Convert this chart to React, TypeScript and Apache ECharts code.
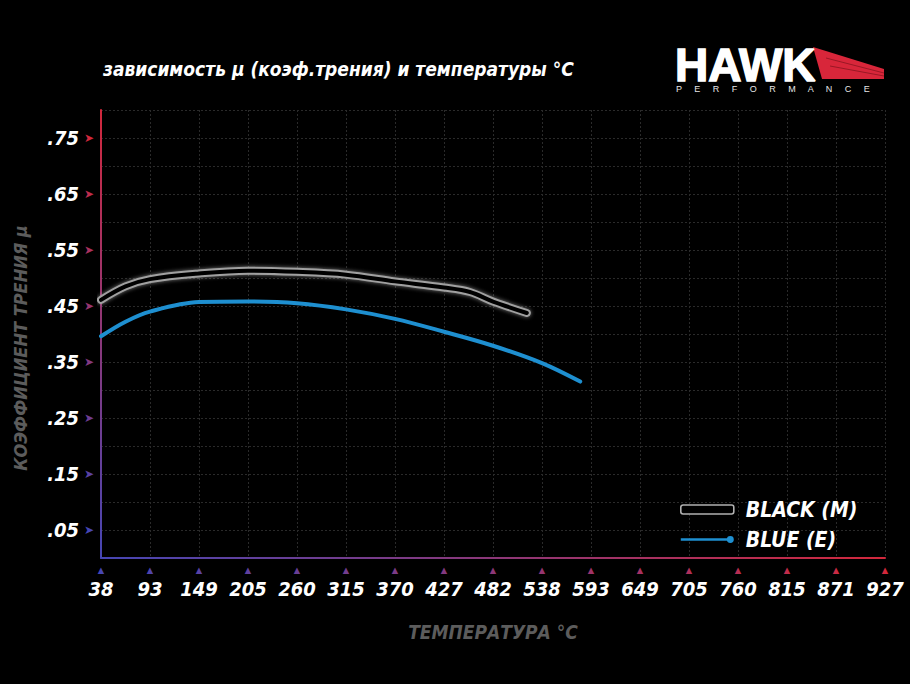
import React, { useEffect, useRef } from "react";
import * as echarts from "echarts";

// x-axis ticks are in °F internally (100..1700), labelled in °C
const tickLabelsC = ["38", "93", "149", "205", "260", "315", "370", "427", "482", "538", "593", "649", "705", "760", "815", "871", "927"];

const blackTempF = [100, 150, 200, 300, 400, 500, 600, 700, 800, 853, 900, 969];
const blackMu = [0.461, 0.485, 0.498, 0.508, 0.513, 0.511, 0.506, 0.494, 0.483, 0.475, 0.458, 0.4375];

const blueTempF = [100, 150, 200, 300, 400, 500, 600, 700, 800, 900, 1000, 1078];
const blueMu = [0.396, 0.422, 0.44, 0.457, 0.458, 0.455, 0.444, 0.427, 0.404, 0.379, 0.348, 0.315];

const TITLE = "зависимость µ (коэф.трения) и температуры °C";
const Y_NAME = "КОЭФФИЦИЕНТ ТРЕНИЯ μ";
const X_NAME = "ТЕМПЕРАТУРА °C";
const BLACK_NAME = "BLACK (M)";
const BLUE_NAME = "BLUE (E)";
const LOGO = "HAWK";
const PERF = "P     E     R     F     O     R     M     A     N     C     E";

const FONT = '"Liberation Sans Narrow", "DejaVu Sans Condensed", "Liberation Sans", sans-serif';

const BLUEPURPLE = [70, 70, 180];
const RED = [210, 40, 60];
function mix(t: number) {
  const c = BLUEPURPLE.map((b, i) => Math.round(b + (RED[i] - b) * t));
  return `rgb(${c[0]},${c[1]},${c[2]})`;
}

export default function App() {
  const ref = useRef<HTMLDivElement>(null);
  useEffect(() => {
    document.body.style.margin = "0";
    document.body.style.background = "#000";
    const chart = echarts.init(ref.current!, null, { renderer: "svg" });

    const xRich: any = {
      v: { fontFamily: FONT, fontSize: 20, fontWeight: "bold", fontStyle: "italic", color: "#fff", lineHeight: 22 },
    };
    for (let i = 0; i < 17; i++) {
      xRich["c" + i] = { fontSize: 11, color: mix(i / 16), lineHeight: 16 };
    }
    const yRich: any = {
      v: { fontFamily: FONT, fontSize: 20, fontWeight: "bold", fontStyle: "italic", color: "#fff" },
    };
    for (let i = 0; i < 8; i++) {
      yRich["c" + i] = { fontSize: 12, color: mix(i / 7), padding: [0, 0, 0, 5] };
    }

    chart.setOption({
      animation: false,
      backgroundColor: "#000",
      title: {
        text: TITLE,
        left: 103,
        top: 59,
        padding: 0,
        textStyle: { color: "#fff", fontFamily: FONT, fontSize: 19, fontWeight: "bold", fontStyle: "italic" },
      },
      grid: { left: 101, right: 25, top: 110, bottom: 126, containLabel: false, outerBoundsMode: "none" },
      legend: {
        orient: "vertical",
        left: 680,
        top: 499,
        padding: 0,
        itemWidth: 53,
        itemHeight: 9,
        itemGap: 9,
        textStyle: { color: "#fff", fontFamily: FONT, fontSize: 21, fontWeight: "bold", fontStyle: "italic", padding: [0, 0, 0, 7] },
        data: [
          { name: BLACK_NAME, icon: "roundRect", itemStyle: { color: "#000", borderColor: "#b0b0b0", borderWidth: 1.6 } },
          {
            name: BLUE_NAME,
            icon: "path://M0,4L48,4L48,6.4L0,6.4Z M53.5,5.2A3.5,3.5 0 1 1 46.5,5.2A3.5,3.5 0 1 1 53.5,5.2Z",
            itemStyle: { color: "#1e8fd0" },
          },
        ],
        selectedMode: false,
      },
      xAxis: {
        type: "value",
        min: 100,
        max: 1700,
        interval: 100,
        name: X_NAME,
        nameLocation: "middle",
        nameGap: 64,
        nameTextStyle: { color: "#5c5c5c", fontFamily: FONT, fontSize: 19, fontWeight: "bold", fontStyle: "italic" },
        axisLine: {
          show: true,
          lineStyle: {
            width: 2,
            color: new echarts.graphic.LinearGradient(101, 0, 885, 0, [
              { offset: 0, color: mix(0) },
              { offset: 1, color: mix(1) },
            ], true),
          },
        },
        axisTick: { show: false },
        axisLabel: {
          margin: 4,
          showMinLabel: true,
          showMaxLabel: true,
          formatter: (v: number) => {
            const idx = Math.round((v - 100) / 100);
            return `{c${idx}|▲}\n{v|${tickLabelsC[idx]}}`;
          },
          rich: xRich,
        },
        splitLine: { show: true, lineStyle: { color: "#2a2a2a", type: [2, 2], width: 1 } },
      },
      yAxis: {
        type: "value",
        min: 0,
        max: 0.8,
        interval: 0.05,
        name: Y_NAME,
        nameLocation: "middle",
        nameGap: 72,
        nameRotate: 90,
        nameTextStyle: { color: "#5c5c5c", fontFamily: FONT, fontSize: 18, fontWeight: "bold", fontStyle: "italic", padding: [0, 28, 0, 0] },
        axisLine: {
          show: true,
          lineStyle: {
            width: 2,
            color: new echarts.graphic.LinearGradient(0, 110, 0, 558, [
              { offset: 0, color: mix(1) },
              { offset: 1, color: mix(0) },
            ], true),
          },
        },
        axisTick: { show: false },
        axisLabel: {
          margin: 7,
          formatter: (v: number) => {
            const h = Math.round(v * 100);
            if (h % 10 !== 5) return "";
            const k = (h - 5) / 10;
            return `{v|.${String(h).padStart(2, "0")}}{c${k}|➤}`;
          },
          rich: yRich,
        },
        splitLine: { show: true, lineStyle: { color: "#2a2a2a", type: [2, 2], width: 1 } },
      },
      series: [
        {
          name: BLACK_NAME,
          type: "line",
          smooth: 0.35,
          showSymbol: false,
          data: blackTempF.map((t, i) => [t, blackMu[i]]),
          lineStyle: { width: 8, color: "#a0a0a0", cap: "round", shadowColor: "rgba(200,200,200,0.6)", shadowBlur: 4 },
          z: 2,
        },
        {
          name: BLACK_NAME,
          type: "line",
          smooth: 0.35,
          showSymbol: false,
          data: blackTempF.map((t, i) => [t, blackMu[i]]),
          lineStyle: { width: 4, color: "#000", cap: "round" },
          z: 3,
        },
        {
          name: BLUE_NAME,
          type: "line",
          smooth: 0.35,
          showSymbol: false,
          data: blueTempF.map((t, i) => [t, blueMu[i]]),
          lineStyle: { width: 4, color: "#1e8fd0", cap: "round" },
          itemStyle: { color: "#1e8fd0" },
          z: 4,
        },
      ],
      graphic: [
        {
          type: "polygon",
          shape: { points: [[813, 47], [884, 69], [884, 79], [822, 79]] },
          style: { fill: "#d8263a" },
        },
        { type: "line", shape: { x1: 826, y1: 58, x2: 884, y2: 73 }, style: { stroke: "#8a1420", lineWidth: 0.8 } },
        { type: "line", shape: { x1: 830, y1: 66, x2: 884, y2: 76 }, style: { stroke: "#8a1420", lineWidth: 0.8 } },
        {
          type: "text",
          x: 675,
          y: 65,
          style: {
            text: LOGO,
            fill: "#fff",
            stroke: "#fff",
            lineWidth: 1.5,
            lineHeight: 34,
            font: 'bold 46px "Liberation Sans", sans-serif',
            textVerticalAlign: "middle",
          },
        },
        {
          type: "text",
          x: 676,
          y: 89,
          style: { text: PERF, fill: "#e6e6e6", font: '9px "Liberation Sans", sans-serif', textVerticalAlign: "middle" },
        },
      ],
    });
    return () => chart.dispose();
  }, []);
  return (
    <div
      ref={ref}
      style={{ position: "fixed", left: 0, top: 0, width: 910, height: 684, background: "#000" }}
    />
  );
}
